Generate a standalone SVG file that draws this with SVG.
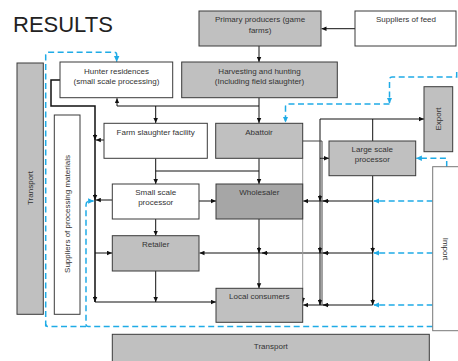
<svg xmlns="http://www.w3.org/2000/svg" width="458" height="361" viewBox="0 0 458 361">
<style>
text{font-family:"Liberation Sans",Arial,sans-serif;font-size:8px;fill:#333;text-anchor:middle}
.g{fill:#c0c0c0;stroke:#3a3a3a;stroke-width:1}
.w{fill:#fff;stroke:#3a3a3a;stroke-width:1}
.d{fill:#a6a6a6;stroke:#3a3a3a;stroke-width:1}
.l{fill:none;stroke:#111;stroke-width:1}
.a{fill:none;stroke:#111;stroke-width:1;marker-end:url(#ah)}
.b{fill:none;stroke:#1fabe6;stroke-width:1.5;stroke-dasharray:6 3.5}
.ba{fill:none;stroke:#1fabe6;stroke-width:1.5;stroke-dasharray:6 3.5;marker-end:url(#bh)}
</style>
<defs>
<marker id="ah" viewBox="0 0 10 10" refX="10" refY="5" markerWidth="5" markerHeight="5" markerUnits="userSpaceOnUse" orient="auto"><path d="M0,0.5 L10,5 L0,9.5 z" fill="#111"/></marker>
<marker id="bh" viewBox="0 0 10 10" refX="9" refY="5" markerWidth="6" markerHeight="6" markerUnits="userSpaceOnUse" orient="auto"><path d="M0,0.5 L10,5 L0,9.5 z" fill="#1fabe6"/></marker>
</defs>
<rect width="458" height="361" fill="#fff"/>
<text x="13" y="32" style="font-size:22px;text-anchor:start;fill:#222">RESULTS</text>

<g id="connectors">
<path class="a" d="M355,28.7 H321.5"/>
<path class="a" d="M259,46 V62"/>
<path class="a" d="M259,97.7 V123"/>
<path class="a" d="M259,106 H117 V98.2"/>
<path class="a" d="M155.7,106 V123"/>
<path class="l" style="stroke-width:1.5" d="M60,80 H51 V106 H95 V302"/>
<path class="a" d="M95,134 V140"/>
<path class="a" d="M95,194 V200"/>
<path class="a" d="M95,296 V302"/>
<path class="a" d="M104,140 H95.8"/>
<path class="a" d="M112,200 H95.8"/>
<path class="a" d="M95,253 H112"/>
<path class="a" d="M95,302 H216"/>
<path class="a" d="M155.7,158.3 V184"/>
<path class="l" d="M155.7,171 H259"/>
<path class="a" d="M259,158.3 V184"/>
<path class="a" d="M199,201 H216"/>
<path class="a" d="M155.7,219 V235.7"/>
<path class="a" d="M155.7,271 V302"/>
<path class="a" d="M259,219 V288.3"/>
<path class="a" d="M259,247 V253"/>
<path class="a" d="M372.7,253 H199.5"/>
<path class="a" d="M268,253 H262"/>
<path class="a" d="M329,253 H323"/>
<path class="a" d="M372.7,201 H303.2"/>
<path class="a" d="M329,201 H323"/>
<path class="a" d="M372.7,305 H303.2"/>
<path class="a" d="M329,305 H323"/>
<path class="l" d="M320,119 V305"/>
<path class="a" d="M320,195 V201"/>
<path class="a" d="M320,247 V253"/>
<path class="a" d="M320,299 V305"/>
<path class="a" d="M320,119 H424"/>
<path class="l" d="M372.7,141 V119"/>
<path class="a" d="M320,158.3 H329"/>
<path class="l" d="M372.7,175.7 V305"/>
<path class="a" d="M372.7,247 V253"/>
<path class="a" d="M372.7,299 V305"/>
<path class="l" style="stroke:#444" d="M302.7,141 H322 V305"/>
<path class="l" style="stroke:#999" d="M302.7,158.3 V288.3"/>
<path class="a" d="M302.7,297 V303"/>

<path class="ba" d="M45.7,326.5 V55 Q45.7,52.3 48.5,52.3 H114 Q116.7,52.3 116.7,55 V61.5"/>
<path class="ba" d="M432.7,326.5 H88.5 Q86,326.5 86,324 V205 Q86,201 90,201 H93.5"/>
<path class="b" d="M86,326.5 H48.5 Q45.7,326.5 45.7,324"/>
<path class="ba" d="M456.7,72 V77 H392 Q389.5,77 389.5,80 V103"/>
<path class="ba" d="M389.5,104 H288 Q285.5,104 285.5,107 V122"/>
<path class="ba" d="M446.7,167 V158.3 H416.5"/>
<path class="ba" d="M432.7,201 H374"/>
<path class="ba" d="M432.7,253 H374"/>
<path class="ba" d="M432.7,305 H374"/>
</g>

<g id="primary-producers"><rect class="g" x="199" y="11" width="122" height="35"/><text x="260" y="22">Primary producers (game</text><text x="260" y="32.5">farms)</text></g>
<g id="suppliers-of-feed"><rect class="w" x="355" y="11" width="101" height="35"/><text x="406" y="22">Suppliers of feed</text></g>
<g id="hunter-residences"><rect class="w" x="60" y="62" width="112.7" height="35.7"/><text x="116.5" y="74">Hunter residences</text><text x="116.5" y="84">(small scale processing)</text></g>
<g id="harvesting"><rect class="g" x="181.7" y="62" width="155.6" height="35.7"/><text x="259.5" y="74">Harvesting and hunting</text><text x="259.5" y="84">(Including field slaughter)</text></g>
<g id="transport-left"><rect class="g" x="17" y="63" width="26.3" height="251.3"/><text transform="translate(33,188) rotate(-90)">Transport</text></g>
<g id="suppliers-processing"><rect class="w" x="54.3" y="115" width="25.7" height="199.3"/><text transform="translate(70,214) rotate(-90)">Suppliers of processing materials</text></g>
<g id="farm-slaughter"><rect class="w" x="104" y="123.3" width="103.3" height="35"/><text x="155.7" y="135">Farm slaughter facility</text></g>
<g id="abattoir"><rect class="g" x="215.7" y="123.3" width="87" height="35"/><text x="259" y="134.5">Abattoir</text></g>
<g id="large-scale-processor"><rect class="g" x="329" y="141" width="86.7" height="34.7"/><text x="372.3" y="152">Large scale</text><text x="372.3" y="162">processor</text></g>
<g id="export"><rect class="g" x="424" y="86.7" width="28.7" height="65"/><text transform="translate(441,119) rotate(-90)">Export</text></g>
<g id="import"><rect class="w" style="stroke:#777" x="432.7" y="166.7" width="40" height="164"/><text transform="translate(443,249) rotate(90)">Import</text></g>
<g id="small-scale-processor"><rect class="w" x="112.3" y="184" width="86.7" height="35"/><text x="155.7" y="195">Small scale</text><text x="155.7" y="205">processor</text></g>
<g id="wholesaler"><rect class="d" x="216" y="184" width="86.7" height="35"/><text x="259.3" y="195">Wholesaler</text></g>
<g id="retailer"><rect class="g" x="112.3" y="235.7" width="86.7" height="35.3"/><text x="155.7" y="247">Retailer</text></g>
<g id="local-consumers"><rect class="g" x="216" y="288.3" width="86.7" height="34"/><text x="259.3" y="299">Local consumers</text></g>
<g id="transport-bottom"><rect class="g" x="112.3" y="334.3" width="317" height="30"/><text x="270.8" y="349">Transport</text></g>
</svg>
